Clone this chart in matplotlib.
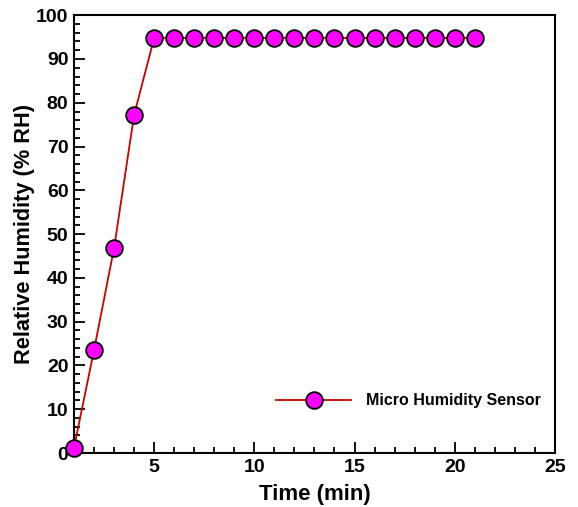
import matplotlib
matplotlib.use("Agg")
import matplotlib.pyplot as plt
from matplotlib.ticker import MultipleLocator

plt.rcParams['font.family'] = ['Liberation Sans', 'DejaVu Sans']
plt.rcParams['font.weight'] = 'bold'

# data
time_min = [1, 2, 3, 4, 5, 6, 7, 8, 9, 10, 11, 12, 13, 14, 15, 16, 17, 18, 19, 20, 21]
humidity = [1.2, 23.5, 46.8, 77.2] + [94.8] * 17

xticks = [5, 10, 15, 20, 25]
yticks = [0, 10, 20, 30, 40, 50, 60, 70, 80, 90, 100]

fig = plt.figure(figsize=(5.78, 5.07), dpi=100)
ax = fig.add_axes([0.128, 0.1065, 0.832, 0.8635])

ax.plot(time_min, humidity, '-', color='#cc0000', lw=1.3,
        marker='o', markersize=12, markerfacecolor='#ff00ff',
        markeredgecolor='black', markeredgewidth=1.3,
        label='Micro Humidity Sensor', clip_on=False, zorder=3)

ax.set_xlim(1, 25)
ax.set_ylim(0, 100)
ax.set_xticks(xticks)
ax.set_yticks(yticks)
ax.xaxis.set_minor_locator(MultipleLocator(1))
ax.yaxis.set_minor_locator(MultipleLocator(2))
ax.tick_params(which='both', direction='in', top=False, right=False, width=1.3)
ax.tick_params(which='major', length=8, labelsize=14, pad=4)
ax.tick_params(which='minor', length=4)
for lab in ax.get_xticklabels() + ax.get_yticklabels():
    lab.set_fontweight('bold')
for sp in ax.spines.values():
    sp.set_linewidth(1.5)

ax.set_xlabel('Time (min)', fontsize=16, fontweight='bold', labelpad=6)
ax.set_ylabel('Relative Humidity (% RH)', fontsize=15.7, fontweight='bold', labelpad=1)

ax.legend(loc='lower right', bbox_to_anchor=(1.0, 0.069), frameon=False,
          handlelength=4.7, handletextpad=0.9,
          prop={'size': 11.5, 'weight': 'bold'})

fig.savefig('out.png', dpi=100)
